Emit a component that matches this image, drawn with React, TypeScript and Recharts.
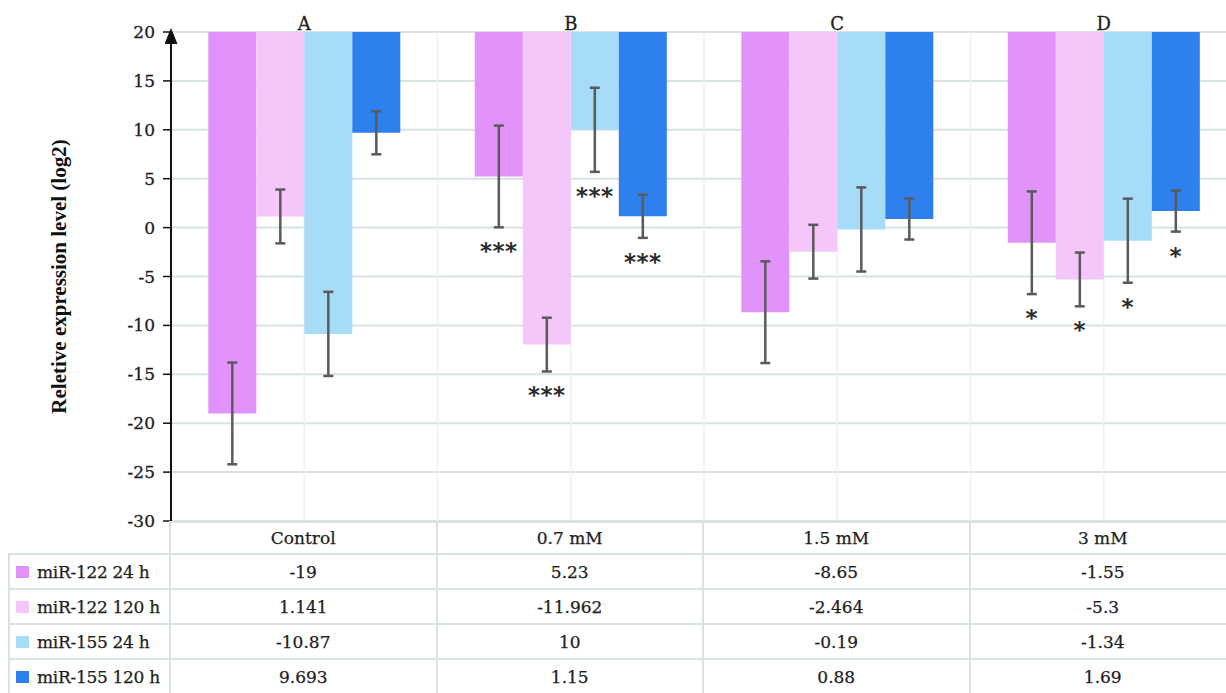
import React from 'react';
import { BarChart, Bar, XAxis, YAxis, CartesianGrid, ErrorBar, LabelList, Label } from 'recharts';

const categories = ['Control', '0.7 mM', '1.5 mM', '3 mM'];
const groupLetters = ['A', 'B', 'C', 'D'];

const mir122_24h = [-19, 5.23, -8.65, -1.55];
const mir122_120h = [1.141, -11.962, -2.464, -5.3];
const mir155_24h = [-10.87, 10, -0.19, -1.34];
const mir155_120h = [9.693, 1.15, 0.88, 1.69];

// error bar half-lengths
const mir122_24hErr = [5.2, 5.2, 5.2, 5.25];
const mir122_120hErr = [2.75, 2.75, 2.75, 2.75];
const mir155_24hErr = [4.3, 4.3, 4.3, 4.3];
const mir155_120hErr = [2.2, 2.2, 2.1, 2.1];

const mir122_24hSig = ['', '***', '', '*'];
const mir122_120hSig = ['', '***', '', '*'];
const mir155_24hSig = ['', '***', '', '*'];
const mir155_120hSig = ['', '***', '', '*'];

const yTicks = [-30, -25, -20, -15, -10, -5, 0, 5, 10, 15, 20];
const Y_MIN = -30;
const Y_MAX = 20;

const series = [
	{ key: 'm122_24', name: 'miR-122 24 h', color: '#E293FB', values: mir122_24h, err: mir122_24hErr, sig: mir122_24hSig },
	{ key: 'm122_120', name: 'miR-122 120 h', color: '#F5C6FA', values: mir122_120h, err: mir122_120hErr, sig: mir122_120hSig },
	{ key: 'm155_24', name: 'miR-155 24 h', color: '#A6DCF8', values: mir155_24h, err: mir155_24hErr, sig: mir155_24hSig },
	{ key: 'm155_120', name: 'miR-155 120 h', color: '#2E80EE', values: mir155_120h, err: mir155_120hErr, sig: mir155_120hSig },
];

// bars hang from the top of the axis down to the value
const rows = categories.map((name, i) => {
	const row: Record<string, unknown> = { name, letter: groupLetters[i] };
	series.forEach((s) => {
		row[s.key] = [Y_MAX, s.values[i]];
		row[s.key + 'Err'] = s.err[i];
	});
	return row;
});

const serif = '"DejaVu Serif", serif';
const gridColor = '#d8e2e2';

const sigLabel = (sig: string[], vals: number[], errs: number[]) => (props: any) => {
	const index = props.index;
	const mark = sig[index];
	const vb = props.viewBox ?? props;
	if (!mark || !vb) return null;
	const top = Math.min(vb.y, vb.y + vb.height);
	const bottom = Math.max(vb.y, vb.y + vb.height);
	const perUnit = (bottom - top) / (Y_MAX - vals[index]);
	const lowY = bottom + errs[index] * perUnit;
	return (
		<text
			x={vb.x + vb.width / 2}
			y={lowY + 32}
			textAnchor="middle"
			fontFamily='"DejaVu Sans", sans-serif'
			fontWeight="bold"
			fontSize={23}
			letterSpacing={0.5}
			fill="#2b2b2b"
		>
			{mark}
		</text>
	);
};

const yLabel = (props: any) => {
	const vb = props.viewBox;
	const cx = 59;
	const cy = vb.y + vb.height / 2;
	return (
		<text
			x={cx}
			y={cy}
			transform={`rotate(-90, ${cx}, ${cy})`}
			textAnchor="middle"
			dominantBaseline="central"
			fontFamily='"Liberation Serif", serif'
			fontWeight="bold"
			fontSize={21}
			fill="#111"
		>
			Reletive expression level (log2)
		</text>
	);
};

function DataTable() {
	const cell: React.CSSProperties = {
		boxSizing: 'border-box',
		display: 'flex',
		alignItems: 'center',
		justifyContent: 'center',
		borderRight: `2px solid ${gridColor}`,
		borderBottom: `2px solid ${gridColor}`,
	};
	return (
		<div
			style={{
				position: 'absolute',
				left: 8,
				top: 521,
				display: 'grid',
				gridTemplateColumns: '163px repeat(4, 266.5px)',
				gridTemplateRows: '34px repeat(4, 35px)',
				fontFamily: serif,
				fontSize: 17,
				color: '#1e1e1e',
				WebkitTextStroke: '0.25px #1e1e1e',
			}}
		>
			<div style={{ ...cell }} />
			{categories.map((c) => (
				<div key={c} style={{ ...cell, borderTop: `2px solid ${gridColor}` }}>
					{c}
				</div>
			))}
			{series.map((s) => (
				<React.Fragment key={s.key}>
					<div style={{ ...cell, justifyContent: 'flex-start', borderLeft: `2px solid ${gridColor}`, paddingLeft: 6 }}>
						<span style={{ display: 'inline-block', width: 13, height: 12, background: s.color, marginRight: 8 }} />
						<span style={{ letterSpacing: -0.3 }}>{s.name}</span>
					</div>
					{s.values.map((v, i) => (
						<div key={i} style={cell}>
							{String(v)}
						</div>
					))}
				</React.Fragment>
			))}
		</div>
	);
}

export default function App() {
	return (
		<div
			style={{
				position: 'absolute',
				left: 0,
				top: 0,
				width: 1226,
				height: 693,
				overflow: 'hidden',
				background: '#fff',
			}}
		>
			<svg width={0} height={0} style={{ position: 'absolute' }}>
				<defs>
					<marker
						id="yArrow"
						viewBox="0 0 16 13"
						markerWidth={16}
						markerHeight={13}
						refX={12}
						refY={6.5}
						markerUnits="userSpaceOnUse"
						orient="auto-start-reverse"
					>
						<path d="M0,0 L16,6.5 L0,13 z" fill="#111" />
					</marker>
				</defs>
			</svg>
			<BarChart
				width={1240}
				height={531}
				data={rows}
				margin={{ top: 2, right: 3, left: 0, bottom: 10 }}
				barCategoryGap="14%"
				barGap={0}
			>
				<CartesianGrid vertical={false} stroke={gridColor} strokeWidth={2} />
				<CartesianGrid
					horizontal={false}
					stroke="#edf1f1"
					strokeWidth={1.5}
					verticalCoordinatesGenerator={({ offset }: any) => {
						const step = offset.width / categories.length;
						return Array.from({ length: categories.length * 2 + 1 }, (_, i) => offset.left + (i * step) / 2);
					}}
				/>
				<XAxis dataKey="name" hide />
				<XAxis
					xAxisId="top"
					orientation="top"
					dataKey="letter"
					height={30}
					axisLine={false}
					tickLine={false}
					tickSize={0}
					tickMargin={2}
					tick={{ fontFamily: serif, fontSize: 18, fill: '#1e1e1e', stroke: '#1e1e1e', strokeWidth: 0.3 }}
				/>
				<YAxis
					width={171}
					domain={[Y_MIN, Y_MAX]}
					ticks={yTicks}
					interval={0}
					allowDataOverflow
					axisLine={{ stroke: '#111', strokeWidth: 2, markerStart: 'url(#yArrow)' }}
					tickLine={{ stroke: '#111', strokeWidth: 1.5 }}
					tickSize={8}
					tickMargin={8}
					tick={{ fontFamily: serif, fontSize: 17, fill: '#1e1e1e', stroke: '#1e1e1e', strokeWidth: 0.3 }}
				>
					<Label content={yLabel} />
				</YAxis>
				{series.map((s) => (
					<Bar key={s.key} dataKey={s.key} name={s.name} fill={s.color} isAnimationActive={false}>
						<ErrorBar dataKey={s.key + 'Err'} width={5} stroke="#5a5a5a" strokeWidth={2.5} direction="y" />
						<LabelList dataKey={s.key} content={sigLabel(s.sig, s.values, s.err)} />
					</Bar>
				))}
			</BarChart>
			<DataTable />
		</div>
	);
}
